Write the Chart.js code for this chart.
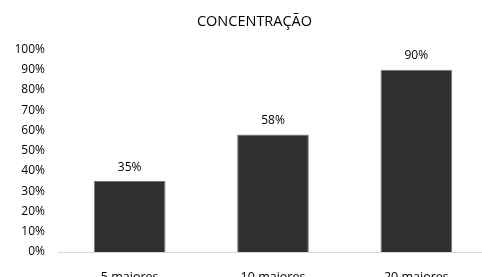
<!DOCTYPE html>
<html>
<head>
<meta charset="utf-8">
<script src="https://cdn.jsdelivr.net/npm/chart.js@4/dist/chart.umd.min.js"></script>
<style>
  html, body { margin: 0; padding: 0; background: #fff; overflow: hidden; }
  canvas { display: block; }
</style>
</head>
<body>
<canvas id="chart" width="509" height="303"></canvas>
<script>
// dados do gráfico
const categories = ['5 maiores', '10 maiores', '20 maiores'];
const values = [35, 58, 90];
const yTicks = [0, 10, 20, 30, 40, 50, 60, 70, 80, 90, 100];

const FONT = "'Open Sans', sans-serif";

// rótulos de valor acima das barras
const valueLabels = {
    id: 'valueLabels',
    afterDatasetsDraw(chart) {
        const ctx = chart.ctx;
        const meta = chart.getDatasetMeta(0);
        ctx.save();
        ctx.font = '12px ' + FONT;
        ctx.fillStyle = '#000';
        ctx.textAlign = 'center';
        ctx.textBaseline = 'middle';
        meta.data.forEach((bar, i) => {
            ctx.fillText(values[i] + '%', bar.x, bar.y - 14);
        });
        ctx.restore();
    }
};

new Chart(document.getElementById('chart'), {
    type: 'bar',
    data: {
        labels: categories,
        datasets: [{
            data: values,
            backgroundColor: '#2f2f2f',
            borderColor: '#787878',
            borderWidth: 1,
            categoryPercentage: 1,
            barPercentage: 0.5
        }]
    },
    options: {
        responsive: false,
        animation: false,
        layout: { padding: 0 },
        plugins: {
            legend: { display: false },
            tooltip: { enabled: false },
            title: {
                display: true,
                text: 'CONCENTRAÇÃO',
                color: '#000',
                font: { family: FONT, size: 14.5, weight: 'normal' },
                padding: { top: 13, bottom: 19 }
            }
        },
        scales: {
            x: {
                grid: { display: false, drawTicks: false },
                border: { display: true, color: '#d9d9d9', width: 1 },
                ticks: { color: '#000', font: { family: FONT, size: 12.5 }, padding: 18 }
            },
            y: {
                min: 0,
                max: 100,
                afterFit: s => { s.width = 58; },
                afterBuildTicks: s => { s.ticks = yTicks.map(v => ({ value: v })); },
                grid: { display: false, drawTicks: false },
                border: { display: false },
                ticks: {
                    color: '#000',
                    font: { family: FONT, size: 12 },
                    padding: 13,
                    callback: v => v + '%'
                }
            },
            // eixo vazio só para deixar margem à direita
            yRight: {
                position: 'right',
                min: 0,
                max: 100,
                afterFit: s => { s.width = 21; },
                grid: { display: false, drawTicks: false },
                border: { display: false },
                ticks: { display: false }
            }
        }
    },
    plugins: [valueLabels]
});
</script>
</body>
</html>
